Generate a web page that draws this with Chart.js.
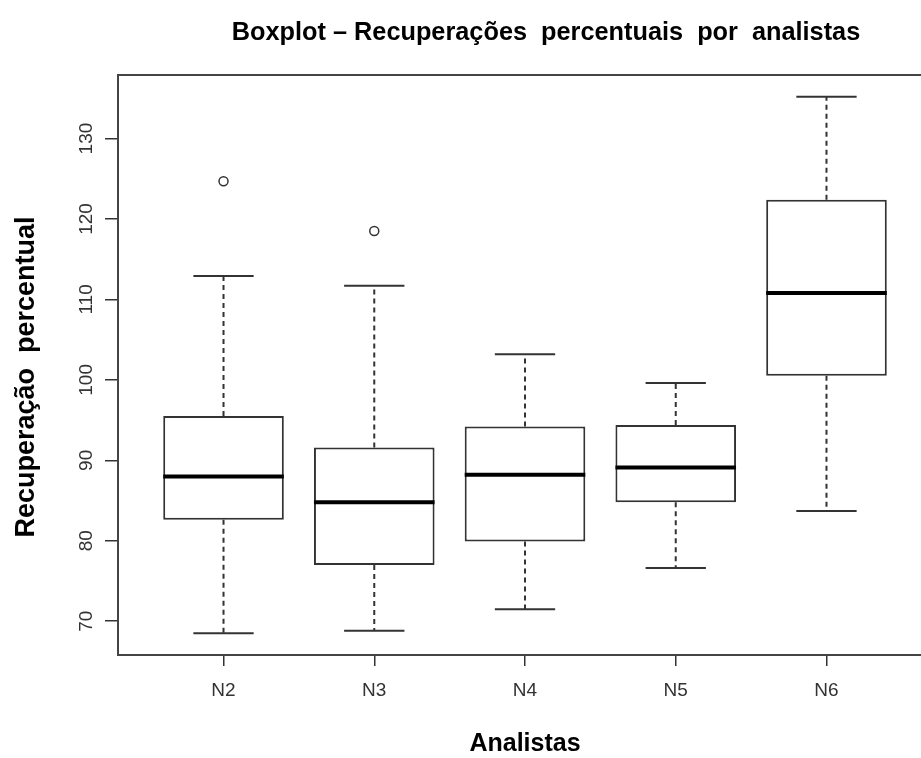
<!DOCTYPE html>
<html>
<head>
<meta charset="utf-8">
<script src="https://cdn.jsdelivr.net/npm/chart.js@4/dist/chart.umd.min.js"></script>
<style>
  html, body { margin: 0; padding: 0; background: #fff; overflow: hidden; width: 921px; height: 758px; }
  #wrap { width: 950px; height: 758px; }
</style>
</head>
<body>
<div id="wrap"><canvas id="c" width="950" height="758"></canvas></div>
<script>
// Five-number summaries per analyst (whisker ends, quartiles, median)
const categories  = ['N2', 'N3', 'N4', 'N5', 'N6'];
const whiskerLow  = [68.5, 68.8, 71.5, 76.6, 83.7];
const quartile1   = [82.6, 77.0, 79.9, 84.8, 100.5];
const medians     = [88.0, 84.8, 88.2, 89.1, 110.8];
const quartile3   = [95.5, 91.6, 94.2, 94.4, 122.4];
const whiskerHigh = [112.9, 111.7, 103.2, 99.6, 135.2];
const outlierGroups = ['N2', 'N3'];
const outlierValues = [124.7, 118.5];
const yTickValues = [70, 80, 90, 100, 110, 120, 130];

const MAIN_TITLE = 'Boxplot \u2013 Recupera\u00e7\u00f5es  percentuais  por  analistas';
const X_TITLE = 'Analistas';
const Y_TITLE = 'Recupera\u00e7\u00e3o  percentual';

const FONT = "'Liberation Sans', Arial, sans-serif";
Chart.defaults.font.family = FONT;

// Whiskers, caps, medians, plot frame and titles drawn through the chart scales
const boxPlotPlugin = {
  id: 'boxWhiskers',
  afterDatasetsDraw(chart) {
    const { ctx, chartArea, scales: { x, y } } = chart;
    const bars = chart.getDatasetMeta(0).data;
    const line = (x1, y1, x2, y2) => { ctx.beginPath(); ctx.moveTo(x1, y1); ctx.lineTo(x2, y2); ctx.stroke(); };
    ctx.save();
    categories.forEach((c, i) => {
      const pos = i + 1;
      const cx = x.getPixelForValue(pos);
      const capL = x.getPixelForValue(pos - 0.2);
      const capR = x.getPixelForValue(pos + 0.2);
      ctx.strokeStyle = '#333';
      ctx.lineWidth = 2;
      ctx.setLineDash([5, 4]);
      line(cx, y.getPixelForValue(quartile3[i]), cx, y.getPixelForValue(whiskerHigh[i]));
      line(cx, y.getPixelForValue(quartile1[i]), cx, y.getPixelForValue(whiskerLow[i]));
      ctx.setLineDash([]);
      line(capL, y.getPixelForValue(whiskerHigh[i]), capR, y.getPixelForValue(whiskerHigh[i]));
      line(capL, y.getPixelForValue(whiskerLow[i]), capR, y.getPixelForValue(whiskerLow[i]));
      const bar = bars[i];
      ctx.strokeStyle = '#000';
      ctx.lineWidth = 4;
      line(bar.x - bar.width / 2, y.getPixelForValue(medians[i]), bar.x + bar.width / 2, y.getPixelForValue(medians[i]));
    });
    ctx.strokeStyle = '#444';
    ctx.lineWidth = 2;
    ctx.strokeRect(chartArea.left, chartArea.top, chartArea.right - chartArea.left, chartArea.bottom - chartArea.top);
    ctx.restore();
  },
  afterDraw(chart) {
    const { ctx } = chart;
    ctx.save();
    ctx.fillStyle = '#000';
    ctx.textAlign = 'center';
    ctx.textBaseline = 'middle';
    ctx.font = 'bold 25.3px ' + FONT;
    ctx.fillText(MAIN_TITLE, 546, 33);
    ctx.translate(27, 377);
    ctx.rotate(-Math.PI / 2);
    ctx.font = 'bold 27px ' + FONT;
    ctx.fillText(Y_TITLE, 0, 0);
    ctx.restore();
  }
};

new Chart(document.getElementById('c'), {
  type: 'bar',
  data: {
    datasets: [
      {
        type: 'bar',
        data: categories.map((c, i) => ({ x: i + 1, y: [quartile1[i], quartile3[i]] })),
        backgroundColor: '#fff',
        borderColor: '#333',
        borderWidth: 2,
        borderSkipped: false,
        barPercentage: 0.8,
        categoryPercentage: 1,
        order: 2
      },
      {
        type: 'scatter',
        data: outlierGroups.map((g, i) => ({ x: categories.indexOf(g) + 1, y: outlierValues[i] })),
        pointStyle: 'circle',
        pointRadius: 4.5,
        pointBorderWidth: 1.5,
        borderColor: '#333',
        backgroundColor: '#fff',
        order: 1
      }
    ]
  },
  options: {
    responsive: false,
    animation: false,
    devicePixelRatio: 1,
    layout: { padding: { top: 75, left: 0, right: 18, bottom: 0 } },
    plugins: { legend: { display: false }, tooltip: { enabled: false }, title: { display: false } },
    scales: {
      x: {
        type: 'linear',
        offset: false,
        min: 0.3,
        max: 5.7,
        afterBuildTicks: s => { s.ticks = categories.map((c, i) => ({ value: i + 1 })); },
        ticks: {
          callback: v => categories[v - 1],
          font: { size: 19 },
          color: '#333',
          padding: 13,
          autoSkip: false,
          maxRotation: 0
        },
        grid: { offset: false, drawOnChartArea: false, drawTicks: true, tickLength: 11, color: '#333', lineWidth: 1.5 },
        border: { display: false },
        title: { display: true, text: X_TITLE, color: '#000', font: { size: 25, weight: 'bold', lineHeight: 1 }, padding: { top: 0, bottom: 1.5 } },
        afterFit: s => { s.height = 103; }
      },
      y: {
        min: 65.8,
        max: 137.9,
        afterBuildTicks: s => { s.ticks = yTickValues.map(v => ({ value: v })); },
        ticks: {
          font: { size: 19 },
          color: '#333',
          minRotation: 90,
          maxRotation: 90,
          crossAlign: 'center',
          padding: 2
        },
        grid: { drawOnChartArea: false, drawTicks: true, tickLength: 13, color: '#333', lineWidth: 1.5 },
        border: { display: false },
        afterFit: s => { s.width = 118; }
      }
    }
  },
  plugins: [boxPlotPlugin]
});
</script>
</body>
</html>
